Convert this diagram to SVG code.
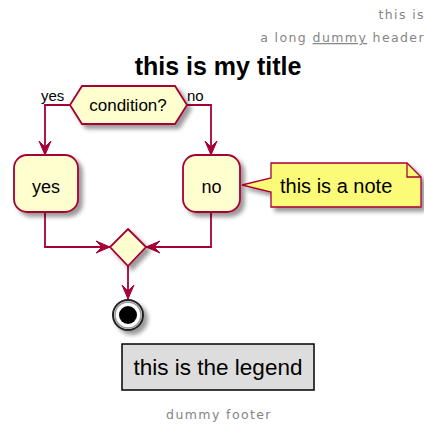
<svg xmlns="http://www.w3.org/2000/svg" width="424" height="425" viewBox="0 0 424 425">
<defs>
<filter id="sh" x="-20%" y="-20%" width="150%" height="150%">
<feGaussianBlur in="SourceAlpha" stdDeviation="2"/>
<feOffset dx="4" dy="4" result="b"/>
<feComponentTransfer><feFuncA type="linear" slope="0.4"/></feComponentTransfer>
<feMerge><feMergeNode/><feMergeNode in="SourceGraphic"/></feMerge>
</filter>
<style>
.act{fill:#FEFECE;stroke:#A80036;stroke-width:1.8}
.ln{fill:none;stroke:#A80036;stroke-width:1.8}
.ah{fill:#A80036;stroke:#A80036;stroke-width:1}
.t{font-family:"Liberation Sans",Arial,sans-serif;fill:#000}
.hf{font-family:"DejaVu Sans","Liberation Sans",sans-serif;fill:#858585;font-size:12.5px;letter-spacing:1.4px}
</style>
</defs>
<g id="header">
<text class="hf" x="425" y="19" text-anchor="end">this is</text>
<text class="hf" x="425" y="42" text-anchor="end">a long <tspan text-decoration="underline">dummy</tspan> header</text>
</g>
<g id="title"><text class="t" x="218" y="75" font-size="25" font-weight="bold" text-anchor="middle">this is my title</text></g>
<g id="connectors">
<polyline class="ln" points="70,105 45,105 45,155"/>
<polygon class="ah" points="39,141 45,155 51,141 45,147"/>
<polyline class="ln" points="186,105 211,105 211,155"/>
<polygon class="ah" points="205,141 211,155 217,141 211,147"/>
<polyline class="ln" points="45,212 45,247 110,247"/>
<polygon class="ah" points="96,241 110,247 96,253 102,247"/>
<polyline class="ln" points="211,212 211,247 146,247"/>
<polygon class="ah" points="160,241 146,247 160,253 154,247"/>
<line class="ln" x1="128" y1="266" x2="128" y2="299"/>
<polygon class="ah" points="122,285 128,299 134,285 128,291"/>
<text class="t" x="41" y="101" font-size="15">yes</text>
<text class="t" x="187" y="101" font-size="15">no</text>
</g>
<g id="condition">
<polygon class="act" filter="url(#sh)" points="70,105 82,86 175,86 187,105 175,124 82,124"/>
<text class="t" x="128" y="111" font-size="17" text-anchor="middle">condition?</text>
</g>
<g id="yes">
<rect class="act" filter="url(#sh)" x="14" y="155" width="64" height="57" rx="13"/>
<text class="t" x="46" y="193" font-size="18" text-anchor="middle">yes</text>
</g>
<g id="no">
<rect class="act" filter="url(#sh)" x="183" y="155" width="57" height="57" rx="13"/>
<text class="t" x="211.5" y="193" font-size="18" text-anchor="middle">no</text>
</g>
<g id="note">
<path filter="url(#sh)" d="M271,163 L407,163 L421,177 L421,207 L271,207 L271,192 L242,185 L271,178 Z" fill="#FBFB77" stroke="#A80036" stroke-width="1.3"/>
<path d="M407,163 L407,177 L421,177" fill="none" stroke="#A80036" stroke-width="1.3"/>
<text class="t" x="280" y="193" font-size="20">this is a note</text>
</g>
<g id="merge">
<polygon class="act" filter="url(#sh)" points="128,229 146,247 128,266 110,247"/>
</g>
<g id="end">
<circle cx="128" cy="315" r="15" fill="#fff" stroke="#222" stroke-width="2" filter="url(#sh)"/>
<circle cx="128" cy="315" r="13" fill="none" stroke="#999" stroke-width="1.5"/>
<circle cx="128" cy="315" r="9" fill="#000"/>
</g>
<g id="legend">
<rect x="122" y="344" width="192" height="46" fill="#DDDDDD" stroke="#000" stroke-width="1.5"/>
<text class="t" x="218" y="375" font-size="22.5" text-anchor="middle" fill="#222">this is the legend</text>
</g>
<g id="footer"><text class="hf" x="219" y="419" text-anchor="middle">dummy footer</text></g>
</svg>
